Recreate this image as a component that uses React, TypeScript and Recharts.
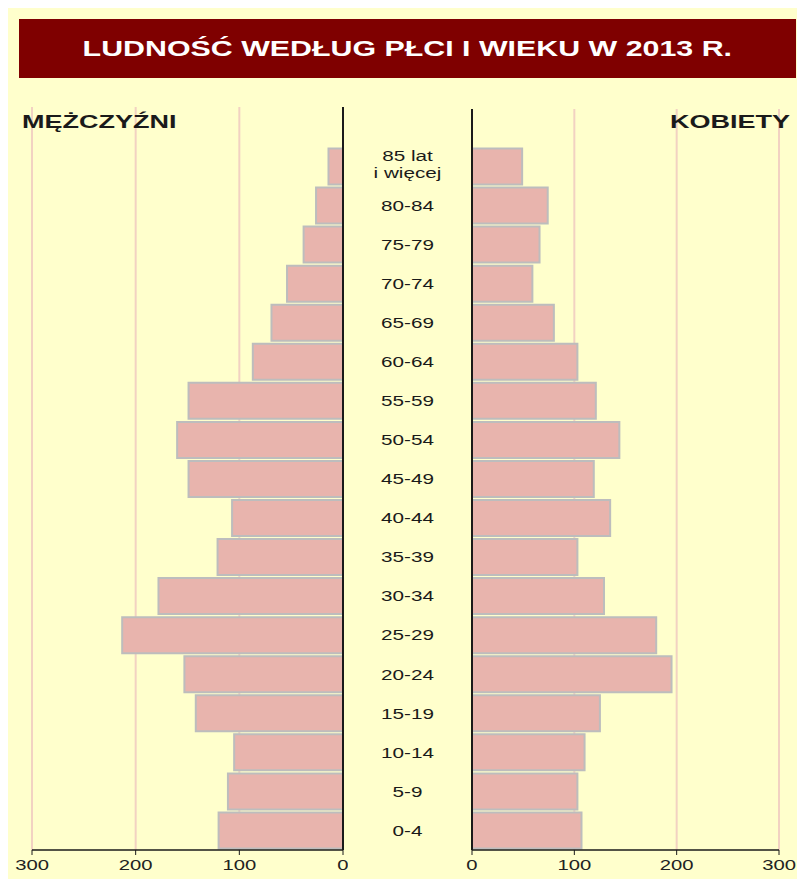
import React from 'react';
import { BarChart, Bar, XAxis, YAxis, CartesianGrid } from 'recharts';

const categories = [
  '85 lat\ni więcej', '80-84', '75-79', '70-74', '65-69', '60-64', '55-59', '50-54', '45-49',
  '40-44', '35-39', '30-34', '25-29', '20-24', '15-19', '10-14', '5-9', '0-4',
];
const men = [14, 26, 38, 54, 69, 87, 149, 160, 149, 107, 121, 178, 213, 153, 142, 105, 111, 120];
const women = [49, 74, 66, 59, 80, 103, 121, 144, 119, 135, 103, 129, 180, 195, 125, 110, 103, 107];
const xTicks = [0, 100, 200, 300];

const data = categories.map((age, i) => ({ age, men: men[i], women: women[i] }));

const FONT = '"Liberation Sans", Arial, Helvetica, sans-serif';
const BAR_FILL = '#E8B4AD';
const BAR_STROKE = '#BDBDBD';
const GRID = '#F2D2C2';
const AXIS = '#1a1a1a';
const LABEL_CX = 59.5;

const XTick = (props: any) => {
  const { x, y, payload } = props;
  return (
    <g transform={`translate(${x},${y + 2})`}>
      <text x={0} y={0} dy="0.71em" textAnchor="middle" fontSize={15} fill="#222" fontFamily={FONT} transform="scale(1.35,1)">
        {payload.value}
      </text>
    </g>
  );
};

const CatTick = (props: any) => {
  const { y, payload } = props;
  const lines = String(payload.value).split('\n');
  const lh = 17;
  const start = -((lines.length - 1) * lh) / 2 - (lines.length > 1 ? 2 : 0);
  return (
    <g transform={`translate(${LABEL_CX},${y})`}>
      <text textAnchor="middle" fontSize={15} fill="#1a1a1a" fontFamily={FONT} transform="scale(1.38,1)">
        {lines.map((l, i) => (
          <tspan key={i} x={0} y={start + i * lh} dy="0.35em">{l}</tspan>
        ))}
      </text>
    </g>
  );
};

export default function App() {
  return (
    <div style={{ position: 'relative', width: 797, height: 871, background: '#FFFFCC', fontFamily: FONT, overflow: 'hidden' }}>
      <div style={{ position: 'absolute', left: 0, top: 0 }}>
        <BarChart
          width={340}
          height={871}
          data={data}
          layout="vertical"
          margin={{ top: 99, right: 4, left: 24, bottom: 0 }}
          barCategoryGap={1.5}
        >
          <CartesianGrid horizontal={false} stroke={GRID} strokeWidth={2} />
          <XAxis
            type="number"
            dataKey="men"
            domain={[0, 300]}
            ticks={xTicks}
            reversed
            height={29}
            axisLine={{ stroke: AXIS, strokeWidth: 1.5 }}
            tickLine={{ stroke: AXIS }}
            tickSize={5}
            tick={<XTick />}
            interval={0}
          />
          <YAxis
            type="category"
            dataKey="age"
            orientation="right"
            width={1}
            tick={false}
            tickLine={false}
            axisLine={{ stroke: AXIS, strokeWidth: 2 }}
            padding={{ top: 40, bottom: 0 }}
          />
          <Bar dataKey="men" fill={BAR_FILL} stroke={BAR_STROKE} strokeWidth={2} isAnimationActive={false} />
        </BarChart>
      </div>
      <div style={{ position: 'absolute', left: 340, top: 0 }}>
        <BarChart
          width={457}
          height={871}
          data={data}
          layout="vertical"
          margin={{ top: 101, right: 26, left: 0, bottom: 0 }}
          barCategoryGap={1.5}
        >
          <CartesianGrid horizontal={false} stroke={GRID} strokeWidth={2} />
          <XAxis
            type="number"
            dataKey="women"
            domain={[0, 300]}
            ticks={xTicks}
            height={29}
            axisLine={{ stroke: AXIS, strokeWidth: 1.5 }}
            tickLine={{ stroke: AXIS }}
            tickSize={5}
            tick={<XTick />}
            interval={0}
          />
          <YAxis
            type="category"
            dataKey="age"
            orientation="left"
            width={124}
            tick={<CatTick />}
            tickLine={false}
            interval={0}
            axisLine={{ stroke: AXIS, strokeWidth: 2 }}
            padding={{ top: 38, bottom: 0 }}
          />
          <Bar dataKey="women" fill={BAR_FILL} stroke={BAR_STROKE} strokeWidth={2} isAnimationActive={false} />
        </BarChart>
      </div>
      <div
        style={{
          position: 'absolute', left: 11, top: 11, width: 777, height: 59, background: '#7F0000',
          display: 'flex', alignItems: 'center', justifyContent: 'center',
        }}
      >
        <span style={{ color: '#fff', fontWeight: 'bold', fontSize: 22, whiteSpace: 'nowrap', display: 'inline-block', transform: 'scaleX(1.38)' }}>
          LUDNOŚĆ WEDŁUG PŁCI I WIEKU W 2013 R.
        </span>
      </div>
      <div
        style={{
          position: 'absolute', left: 14, top: 103, fontSize: 18, fontWeight: 'bold', color: '#1a1a1a',
          whiteSpace: 'nowrap', transform: 'scaleX(1.5)', transformOrigin: 'left center', lineHeight: '22px',
        }}
      >
        MĘŻCZYŹNI
      </div>
      <div
        style={{
          position: 'absolute', right: 15, top: 103, fontSize: 18, fontWeight: 'bold', color: '#1a1a1a',
          whiteSpace: 'nowrap', transform: 'scaleX(1.5)', transformOrigin: 'right center', lineHeight: '22px',
        }}
      >
        KOBIETY
      </div>
    </div>
  );
}
